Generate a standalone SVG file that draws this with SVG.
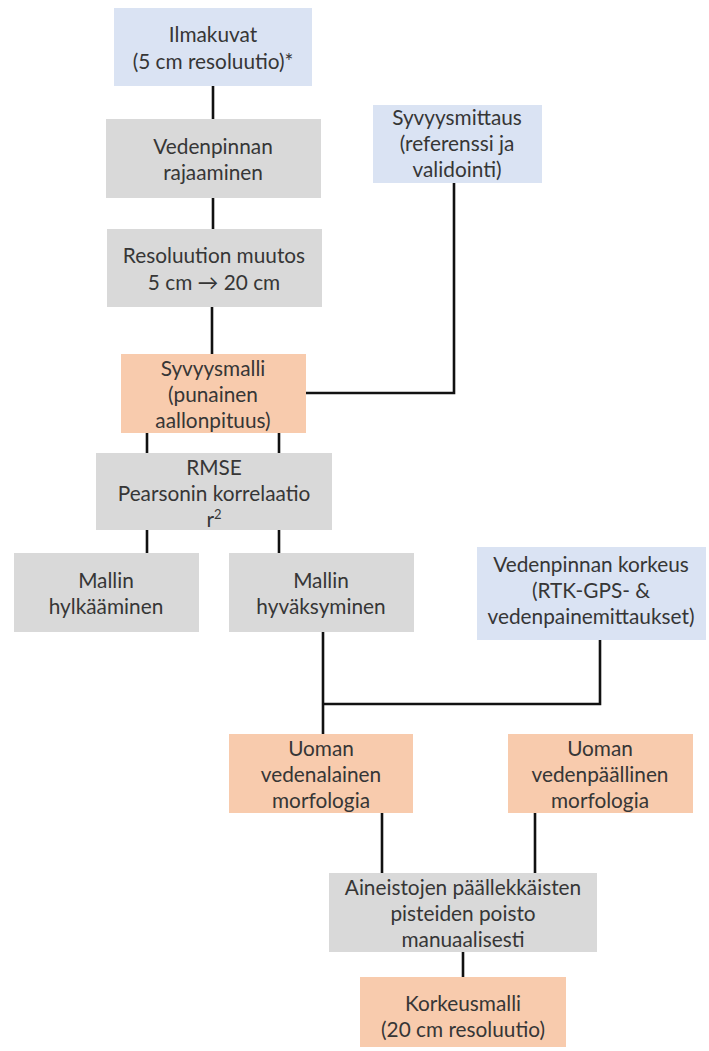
<svg xmlns="http://www.w3.org/2000/svg" width="709" height="1051" viewBox="0 0 709 1051">
<style>
.blue{fill:#dae3f3}
.gray{fill:#d9d9d9}
.orange{fill:#f8cbad}
text{font-family:Lato,"Open Sans","DejaVu Sans",sans-serif;font-size:20.8px;fill:#363636;text-anchor:middle}
.conn{stroke:#111;stroke-width:2.6;fill:none}
</style>
<rect width="709" height="1051" fill="#fff"/>
<g id="connectors">
<line class="conn" x1="213" y1="86" x2="213" y2="119"/>
<line class="conn" x1="213" y1="198" x2="213" y2="229"/>
<line class="conn" x1="212" y1="307" x2="212" y2="354"/>
<polyline class="conn" points="306,393 454,393 454,183"/>
<line class="conn" x1="147" y1="433" x2="147" y2="453"/>
<line class="conn" x1="279" y1="433" x2="279" y2="453"/>
<line class="conn" x1="147" y1="530" x2="147" y2="553"/>
<line class="conn" x1="279" y1="530" x2="279" y2="553"/>
<line class="conn" x1="323" y1="632" x2="323" y2="734"/>
<polyline class="conn" points="600,640 600,704 323,704"/>
<line class="conn" x1="382" y1="813" x2="382" y2="873"/>
<line class="conn" x1="535" y1="813" x2="535" y2="873"/>
<line class="conn" x1="463" y1="952" x2="463" y2="977"/>
</g>
<g id="ilmakuvat">
<rect class="blue" x="114" y="8" width="198" height="78"/>
<text x="213" y="42">Ilmakuvat</text>
<text x="213" y="69">(5 cm resoluutio)*</text>
</g>
<g id="vedenpinnan-rajaaminen">
<rect class="gray" x="106" y="119" width="215" height="79"/>
<text x="213" y="154">Vedenpinnan</text>
<text x="213" y="180">rajaaminen</text>
</g>
<g id="resoluution-muutos">
<rect class="gray" x="107" y="229" width="215" height="78"/>
<text x="214" y="263">Resoluution muutos</text>
<text x="214" y="290">5 cm → 20 cm</text>
</g>
<g id="syvyysmittaus">
<rect class="blue" x="373" y="105" width="169" height="78"/>
<text x="457" y="125">Syvyysmittaus</text>
<text x="457" y="151">(referenssi ja</text>
<text x="457" y="177">validointi)</text>
</g>
<g id="syvyysmalli">
<rect class="orange" x="121" y="354" width="185" height="79"/>
<text x="213" y="376">Syvyysmalli</text>
<text x="213" y="402">(punainen</text>
<text x="213" y="428">aallonpituus)</text>
</g>
<g id="rmse">
<rect class="gray" x="96" y="453" width="236" height="77"/>
<text x="214" y="475">RMSE</text>
<text x="214" y="501">Pearsonin korrelaatio</text>
<text x="214" y="527">r<tspan font-size="13" baseline-shift="super">2</tspan></text>
</g>
<g id="mallin-hylkaaminen">
<rect class="gray" x="14" y="553" width="185" height="79"/>
<text x="106" y="588">Mallin</text>
<text x="106" y="614">hylkääminen</text>
</g>
<g id="mallin-hyvaksyminen">
<rect class="gray" x="229" y="553" width="185" height="79"/>
<text x="321" y="588">Mallin</text>
<text x="321" y="614">hyväksyminen</text>
</g>
<g id="vedenpinnan-korkeus">
<rect class="blue" x="477" y="547" width="229" height="93"/>
<text x="591" y="572">Vedenpinnan korkeus</text>
<text x="591" y="598">(RTK-GPS- &amp;</text>
<text x="591" y="624">vedenpainemittaukset)</text>
</g>
<g id="uoman-vedenalainen">
<rect class="orange" x="229" y="734" width="184" height="79"/>
<text x="321" y="756">Uoman</text>
<text x="321" y="782">vedenalainen</text>
<text x="321" y="808">morfologia</text>
</g>
<g id="uoman-vedenpaallinen">
<rect class="orange" x="508" y="734" width="185" height="79"/>
<text x="600" y="756">Uoman</text>
<text x="600" y="782">vedenpäällinen</text>
<text x="600" y="808">morfologia</text>
</g>
<g id="aineistojen-poisto">
<rect class="gray" x="329" y="873" width="268" height="79"/>
<text x="463" y="895">Aineistojen päällekkäisten</text>
<text x="463" y="921">pisteiden poisto</text>
<text x="463" y="947">manuaalisesti</text>
</g>
<g id="korkeusmalli">
<rect class="orange" x="360" y="977" width="206" height="70"/>
<text x="463" y="1011">Korkeusmalli</text>
<text x="463" y="1037">(20 cm resoluutio)</text>
</g>
</svg>
